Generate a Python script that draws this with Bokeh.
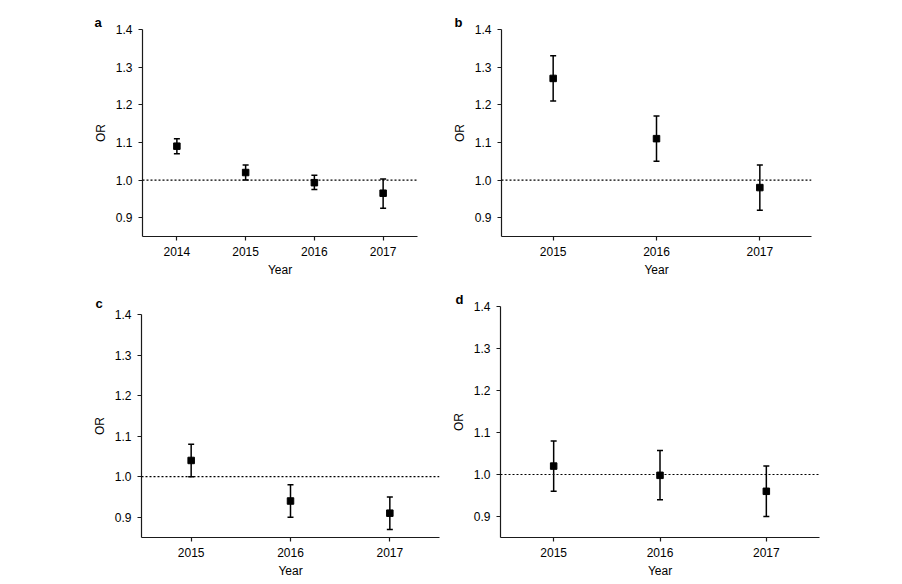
from bokeh.plotting import figure
from bokeh.models import (Range1d, FixedTicker, Span, Whisker, TeeHead,
                          ColumnDataSource, PrintfTickFormatter)
from bokeh.layouts import row, column
from bokeh.embed import file_html
from bokeh.resources import INLINE

# ---- data ----
years_a = [2014, 2015, 2016, 2017]
or_a = [1.09, 1.02, 0.993, 0.965]
lo_a = [1.07, 1.00, 0.975, 0.925]
hi_a = [1.11, 1.04, 1.013, 1.003]

years_b = [2015, 2016, 2017]
or_b = [1.27, 1.11, 0.98]
lo_b = [1.21, 1.05, 0.92]
hi_b = [1.33, 1.17, 1.04]

years_c = [2015, 2016, 2017]
or_c = [1.04, 0.94, 0.91]
lo_c = [1.00, 0.90, 0.87]
hi_c = [1.08, 0.98, 0.95]

years_d = [2015, 2016, 2017]
or_d = [1.02, 0.998, 0.96]
lo_d = [0.96, 0.94, 0.90]
hi_d = [1.08, 1.057, 1.02]

y_ticks = [0.9, 1.0, 1.1, 1.2, 1.3, 1.4]
y_min, y_max = 0.85, 1.4
ref_line = 1.0
panel_letters = ["a", "b", "c", "d"]
x_title = "Year"
y_title = "OR"

FONT = "Liberation Sans"
AX = "#1a1a1a"


def make_panel(letter, years, vals, lo, hi, width, height,
               bl, br, bt, bb, letter_dx, letter_standoff):
    p = figure(width=width, height=height, output_backend="svg",
               toolbar_location=None, tools="",
               x_range=Range1d(years[0] - 0.5, years[-1] + 0.5),
               y_range=Range1d(y_min, y_max))
    p.frame_align = False
    p.min_border_left = bl
    p.min_border_right = br
    p.min_border_top = bt
    p.min_border_bottom = bb
    p.outline_line_color = None
    p.background_fill_color = "white"
    p.border_fill_color = "white"
    p.xgrid.visible = False
    p.ygrid.visible = False

    p.title.text = letter
    p.title.align = "left"
    p.title.offset = letter_dx
    p.title.standoff = letter_standoff
    p.title.text_font = FONT
    p.title.text_font_size = "13px"
    p.title.text_font_style = "bold"
    p.title.text_color = "black"

    p.xaxis.ticker = FixedTicker(ticks=years)
    p.xaxis.formatter = PrintfTickFormatter(format="%d")
    p.yaxis.ticker = FixedTicker(ticks=y_ticks)
    p.yaxis.formatter = PrintfTickFormatter(format="%.1f")
    for ax in (p.xaxis, p.yaxis):
        ax.axis_line_color = AX
        ax.axis_line_width = 1.2
        ax.major_tick_line_color = AX
        ax.major_tick_line_width = 1.2
        ax.major_tick_out = 4
        ax.major_tick_in = 0
        ax.minor_tick_line_color = None
        ax.major_label_text_font = FONT
        ax.major_label_text_font_size = "12px"
        ax.major_label_text_color = "black"
        ax.axis_label_text_font = FONT
        ax.axis_label_text_font_size = "12px"
        ax.axis_label_text_font_style = "normal"
        ax.axis_label_text_color = "black"
    p.xaxis.axis_label = x_title
    p.yaxis.axis_label = y_title
    p.xaxis.major_label_standoff = 6
    p.xaxis.axis_label_standoff = 4
    p.yaxis.major_label_standoff = 6
    p.yaxis.axis_label_standoff = 5

    p.add_layout(Span(location=ref_line, dimension="width", line_color="black",
                      line_width=1.2, line_dash="2 2"))

    src = ColumnDataSource(dict(x=years, y=vals, lo=lo, hi=hi))
    p.add_layout(Whisker(source=src, base="x", upper="hi", lower="lo",
                         dimension="height", line_color="black", line_width=1.5,
                         upper_head=TeeHead(size=6, line_color="black", line_width=1.5),
                         lower_head=TeeHead(size=6, line_color="black", line_width=1.5)))
    p.scatter("x", "y", source=src, marker="square", size=6.5,
              fill_color="black", line_color="black")
    return p


pa = make_panel(panel_letters[0], years_a, or_a, lo_a, hi_a, 445, 280,
                142, 28, 29, 44, -48, 0)
pb = make_panel(panel_letters[1], years_b, or_b, lo_b, hi_b, 456, 280,
                56, 90, 29, 44, -47, 0)
pc = make_panel(panel_letters[2], years_c, or_c, lo_c, hi_c, 445, 303,
                141, 6, 34, 46, -46, 8)
pd = make_panel(panel_letters[3], years_d, or_d, lo_d, hi_d, 456, 303,
                55, 82, 26, 46, -45, 0)

layout = column(row(pa, pb), row(pc, pd))
open("out.html", "w").write(file_html(layout, INLINE))
